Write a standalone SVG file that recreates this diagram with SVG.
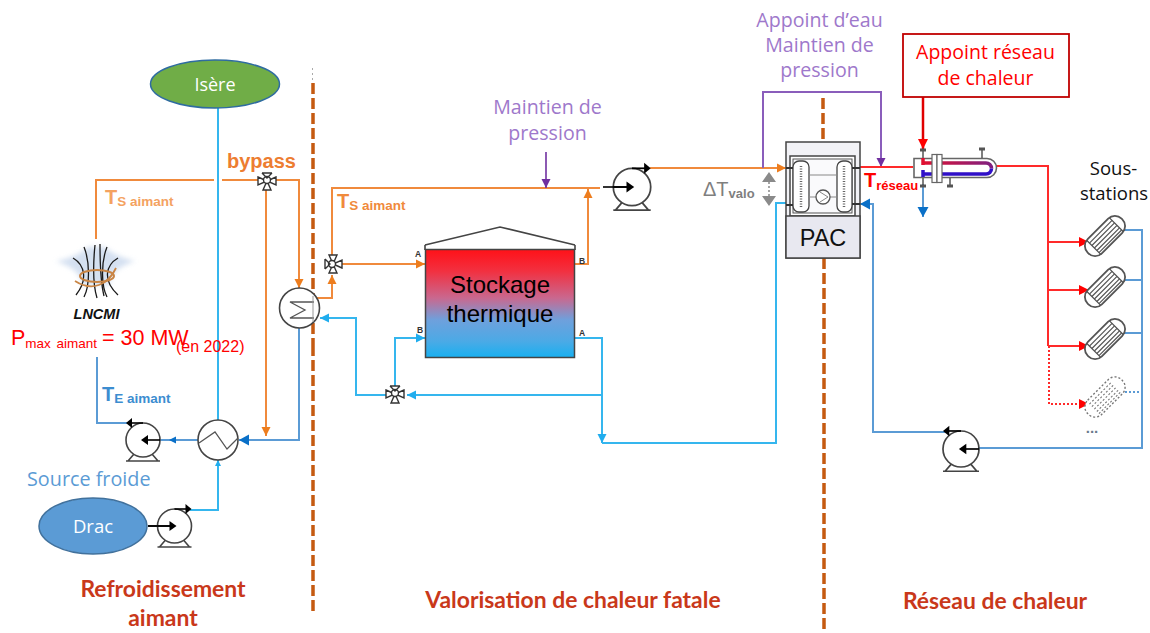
<svg xmlns="http://www.w3.org/2000/svg" width="1150" height="633" viewBox="0 0 1150 633">
<style>
.o{fill:none;stroke:#F08A3C;stroke-width:2}
.l{fill:none;stroke:#35B6EE;stroke-width:2}
.b{fill:none;stroke:#5B9BD5;stroke-width:2}
.r{fill:none;stroke:#FF2A2A;stroke-width:2}
.p{fill:none;stroke:#8A5DBB;stroke-width:2}
.d{fill:none;stroke:#C55A11;stroke-width:3.5;stroke-dasharray:11 4}
.eq{fill:#fff;stroke:#444;stroke-width:1.6}
.thin{fill:none;stroke:#555;stroke-width:1.3}
text{font-family:"Open Sans","Noto Sans",sans-serif}
.sm{font-family:"Liberation Sans",Arial,sans-serif}
.tt{font-family:Lato,"Open Sans",sans-serif;font-weight:700;font-size:22.9px;fill:#C9381A;text-anchor:middle}
.v{font-size:19.6px;fill:#9E78CB;text-anchor:middle}
.m{text-anchor:middle}
</style>
<defs>
<marker id="ao" markerUnits="userSpaceOnUse" markerWidth="10" markerHeight="10" refX="9" refY="5" orient="auto"><path d="M0 0.500L9 5L0 9.500z" fill="#ED7D1E"/></marker>
<marker id="al" markerUnits="userSpaceOnUse" markerWidth="10" markerHeight="10" refX="9" refY="5" orient="auto"><path d="M0 0.500L9 5L0 9.500z" fill="#20ADEE"/></marker>
<marker id="als" markerUnits="userSpaceOnUse" markerWidth="7" markerHeight="8" refX="6" refY="4" orient="auto"><path d="M0 1L6 4L0 7z" fill="#20ADEE"/></marker>
<marker id="ab" markerUnits="userSpaceOnUse" markerWidth="11" markerHeight="12" refX="10" refY="6" orient="auto"><path d="M0 0.500L10 6L0 11.500z" fill="#0A70C8"/></marker>
<marker id="abs" markerUnits="userSpaceOnUse" markerWidth="8" markerHeight="8" refX="7" refY="4" orient="auto"><path d="M0 0.500L7 4L0 7.500z" fill="#0A70C8"/></marker>
<marker id="ar" markerUnits="userSpaceOnUse" markerWidth="11" markerHeight="12" refX="10" refY="5.500" orient="auto"><path d="M0 0.500L10 5.500L0 10.500z" fill="#FF0000"/></marker>
<marker id="ap" markerUnits="userSpaceOnUse" markerWidth="14" markerHeight="12" refX="9" refY="4.500" orient="auto"><path d="M0 0L9 4.500L0 9z" fill="#7030A0"/></marker>
<linearGradient id="tank" x1="0" y1="0" x2="0" y2="1">
<stop offset="0" stop-color="#FF1118"/><stop offset="0.2" stop-color="#F23040"/><stop offset="0.45" stop-color="#C9688F"/><stop offset="0.65" stop-color="#6FA0DC"/><stop offset="0.85" stop-color="#4BAAE6"/><stop offset="1" stop-color="#18B0F0"/>
</linearGradient>
<linearGradient id="hx" x1="0" y1="0" x2="1" y2="0"><stop offset="0" stop-color="#E01030"/><stop offset="1" stop-color="#802080"/></linearGradient>
<filter id="halo" x="-20%" y="-20%" width="140%" height="140%"><feGaussianBlur stdDeviation="2.500"/></filter>
<g id="pump">
<path d="M-15 21L-9 14M15 21L9 14M-17 21H17" fill="none" stroke="#444" stroke-width="1.600"/>
<circle r="17" fill="#fff" stroke="#444" stroke-width="1.600"/>
<path d="M-17 0H-2" stroke="#000" stroke-width="1.600"/><path d="M-5 -5L2 0L-5 5z" fill="#000"/>
<path d="M0 -17H13" stroke="#000" stroke-width="1.600"/><path d="M11 -22L17 -17L11 -12z" fill="#000"/>
</g>
<g id="valve">
<path d="M-9 -4L0 0L-9 4zM9 -4L0 0L9 4zM-4 9L0 0L4 9z" fill="#fff" stroke="#333" stroke-width="1.400"/>
<circle cy="-1" r="3.500" fill="#fff" stroke="#333" stroke-width="1.400"/>
<path d="M-5 -8H5M-5 -8L0 -3L5 -8" fill="none" stroke="#333" stroke-width="1.400"/>
</g>
<g id="sub">
<rect x="-24" y="-10" width="48" height="20" rx="9.500" fill="#fff" stroke="#555" stroke-width="1.800"/>
<path d="M-16 -10V10M16 -10V10" stroke="#555" stroke-width="1.300"/>
<path d="M-16 -6H16M-16 -2.500H16M-16 1H16M-16 4.500H16M-16 7.500H16" stroke="#555" stroke-width="1.200"/>
</g>
<g id="subd">
<rect x="-24" y="-10" width="48" height="20" rx="9.500" fill="#fff" stroke="#777" stroke-width="1.400" stroke-dasharray="2 2"/>
<path d="M-16 -6H16M-16 -2.500H16M-16 1H16M-16 4.500H16M-16 7.500H16" stroke="#777" stroke-width="1.100" stroke-dasharray="2 2"/>
</g>
</defs>
<rect width="1150" height="633" fill="#fff"/>

<g id="separateurs">
<path d="M312.500 68V82" stroke="#AAA" stroke-width="1" stroke-dasharray="2 3" fill="none"/>
<path class="d" d="M313 83V345"/><path class="d" d="M313 345V615"/>
<path class="d" d="M823 98V142"/><path class="d" d="M824 258V633"/>
</g>

<g id="connecteurs">
<path class="l" d="M218 108V420"/>
<path class="l" d="M190 510H218V460" marker-end="url(#als)"/>
<path class="o" d="M96 239V180H214M222 180H258"/>
<path class="o" d="M276 180H299V288" marker-end="url(#ao)"/>
<path class="o" d="M266 190V436" marker-end="url(#ao)"/>
<path class="o" d="M317 298H332V275" marker-end="url(#ao)"/>
<path class="o" d="M332 255V188H600"/>
<path class="o" d="M341 264H425" marker-end="url(#ao)"/>
<path class="o" d="M575 264H588V189" marker-end="url(#ao)"/>
<path class="o" d="M650 168H786" marker-end="url(#ao)"/>
<path class="b" d="M299 328V440H239" marker-end="url(#ab)"/>
<path class="b" d="M198 440H160"/><path class="b" d="M176 440H169" marker-end="url(#abs)"/>
<path class="b" d="M129 423H97V357"/>
<path class="l" d="M386 395H356V318H320" marker-end="url(#al)"/>
<path class="l" d="M602 395H407" marker-end="url(#al)"/>
<path class="l" d="M395 386V338H425" marker-end="url(#al)"/>
<path class="l" d="M575 338H602V443" marker-end="url(#al)"/>
<path class="l" d="M602 443H776V203H787"/>
<path d="M546 152V188" style="fill:none;stroke:#7030A0;stroke-width:1.600" marker-end="url(#ap)"/>
<path class="p" d="M763 168V92H881V167" marker-end="url(#ap)"/>
<path class="r" d="M860 167H913M996 166H1048V346"/>
<path style="fill:none;stroke:#E00000;stroke-width:2.500" d="M923 97V149" marker-end="url(#ar)"/>
<path class="b" d="M923 184V217" marker-end="url(#ab)"/>
<path class="r" d="M1048 242H1089" marker-end="url(#ar)"/>
<path class="r" d="M1048 290H1089" marker-end="url(#ar)"/>
<path class="r" d="M1048 346H1089" marker-end="url(#ar)"/>
<path class="r" d="M1049 346V404H1089" stroke-dasharray="2 2" marker-end="url(#ar)"/>
<path class="b" d="M1121 230H1142V448H978"/>
<path class="b" d="M1121 280H1142M1121 333H1142"/>
<path class="b" d="M1121 392H1142" stroke-dasharray="2 2"/>
<path class="b" d="M945 432H873V204H860" marker-end="url(#ab)"/>
<path fill="none" stroke="#888" stroke-width="1.500" stroke-dasharray="2 2" d="M769 178V197"/>
<path d="M769 172L776 182H762zM769 206L776 196H762z" fill="#8A8A8A"/>
</g>

<g id="isere"><ellipse cx="215" cy="84" rx="64.500" ry="24" fill="#70AD47" stroke="#2F6CA0" stroke-width="1.500"/><text x="215" y="90.500" class="m" font-size="18" fill="#fff">Isère</text></g>
<g id="drac"><ellipse cx="93" cy="526" rx="54" ry="28" fill="#5B9BD5" stroke="#41719C" stroke-width="1.500"/><text x="93" y="533" class="m" font-size="18.500" fill="#fff">Drac</text></g>
<g id="pompe-drac"><path d="M148 526H160" stroke="#000" stroke-width="1.600"/><use href="#pump" x="174.500" y="526"/><path d="M148 526H170" stroke="#000" stroke-width="1.600"/></g>
<g id="pompe-aimant"><use href="#pump" transform="translate(143,440) scale(-1,1)"/></g>
<g id="pompe-valo"><use href="#pump" transform="translate(632,187) scale(1.100)"/><path d="M603 187H628" stroke="#000" stroke-width="1.600"/></g>
<g id="pompe-reseau"><use href="#pump" transform="translate(961,449) scale(-1.060,1.060)"/></g>

<g id="echangeur-1"><circle cx="299.500" cy="308" r="20" class="eq"/><path class="thin" d="M314 302H290L305 310L290 318H314"/><path d="M313 296V322" stroke="#999" stroke-width="1"/></g>
<g id="echangeur-2"><circle cx="218" cy="440" r="20" class="eq"/><path class="thin" d="M199 443L215 432L227 449L238 438"/></g>
<g id="vanne-bypass"><use href="#valve" x="267" y="181"/></g>
<g id="vanne-stock-haut"><use href="#valve" transform="translate(333,264) rotate(-90)"/></g>
<g id="vanne-stock-bas"><use href="#valve" x="395" y="394"/></g>

<g id="aimant">
<path d="M56 261C75 258 85 250 88 247H105C110 252 120 258 135 261C115 268 110 275 110 285H82C82 275 75 268 56 261z" fill="#C6D6EC" opacity=".75" filter="url(#halo)"/>
<g fill="none" stroke="#1a1a1a" stroke-width="1.300">
<path d="M95 245C93 265 93 285 97 298M84 247C90 262 90 285 84 297M107 247C101 262 101 285 107 297M73 258C85 265 88 280 76 295M118 258C106 265 102 280 118 295M100 244C100 262 100 280 104 296"/>
</g>
<ellipse cx="97" cy="276" rx="17" ry="6" fill="none" stroke="#C98545" stroke-width="2"/>
<path d="M75 281C92 292 108 285 116 268" fill="none" stroke="#C98545" stroke-width="1.800"/>
<text x="96.500" y="319" class="sm m" font-size="14.500" font-weight="700" font-style="italic" fill="#111">LNCMI</text>
</g>

<g id="stockage">
<path d="M425 245L500 227L575 245" fill="none" stroke="#444" stroke-width="1.600"/>
<path d="M425 245V250M575 245V250" stroke="#444" stroke-width="1.600"/>
<rect x="425.500" y="249.500" width="149" height="108" fill="url(#tank)" stroke="#444" stroke-width="1.500"/>
<text x="500" y="293" class="sm m" font-size="24" fill="#000">Stockage</text>
<text x="500" y="322" class="sm m" font-size="24" fill="#000">thermique</text>
<g font-weight="700" fill="#333"><text x="415" y="257" class="sm" font-size="8.500">A</text><text x="579" y="264" class="sm" font-size="8.500">B</text><text x="417" y="333" class="sm" font-size="8.500">B</text><text x="579" y="336" class="sm" font-size="8.500">A</text></g>
</g>

<g id="pac">
<rect x="786" y="142" width="74" height="116" fill="#F2F2F6" stroke="#444" stroke-width="1.500"/>
<rect x="790" y="156" width="65" height="60" fill="#fff" stroke="#444" stroke-width="1.500"/>
<rect x="793" y="159" width="59" height="54" fill="#FAFAFC" stroke="#555"/>
<rect x="786" y="216" width="74" height="42" fill="#E8E8F0" stroke="#444" stroke-width="1.500"/>
<rect x="793" y="161" width="16" height="51" rx="6" fill="#fff" stroke="#444" stroke-width="1.300"/>
<rect x="837" y="161" width="15" height="51" rx="6" fill="#fff" stroke="#444" stroke-width="1.300"/>
<path d="M801 166V207M844 166V207" stroke="#666" stroke-width="2.500" stroke-dasharray="1 1.500"/>
<path d="M809 175H837M809 197H816M830 197H837" stroke="#888" stroke-width="1.200"/>
<circle cx="823" cy="197" r="7" fill="#fff" stroke="#555" stroke-width="1.300"/>
<path d="M820 192L828 197L820 202" fill="none" stroke="#888"/>
<path d="M786 168H793M786 205H793M852 168H860M852 204H860" stroke="#333" stroke-width="2"/>
<text x="823" y="246" class="sm m" font-size="23.500" fill="#111">PAC</text>
</g>

<g id="echangeur-appoint">
<path d="M935 158.500H987A9.500 9.500 0 0 1 987 177.500H914V158.500z" fill="#fff" stroke="#666" stroke-width="1.600"/>
<path d="M923 163H986A5.500 5.500 0 0 1 991.500 168.500" fill="none" stroke="url(#hx)" stroke-width="3.500"/>
<path d="M923 174H986A5.500 5.500 0 0 0 991.500 168.500" fill="none" stroke="#3010C8" stroke-width="3.500"/>
<rect x="932" y="154.500" width="5" height="28" fill="#fff" stroke="#666" stroke-width="1.200"/>
<rect x="937" y="154.500" width="5" height="28" fill="#fff" stroke="#666" stroke-width="1.200"/>
<path d="M923 158V165" stroke="#E01030" stroke-width="3.500"/>
<path d="M923 170V177" stroke="#3010C8" stroke-width="3.500"/>
<path d="M923 150V158M923 178V186M982 149V158M950 178V186" stroke="#555" stroke-width="1.500"/>
<path d="M920 150H926M920 186H926M979 149H985M947 186H953" stroke="#555" stroke-width="3"/>
</g>
<g id="sous-station-1"><use href="#sub" transform="translate(1105,236) rotate(-45)"/></g>
<g id="sous-station-2"><use href="#sub" transform="translate(1105,287) rotate(-45)"/></g>
<g id="sous-station-3"><use href="#sub" transform="translate(1105,339) rotate(-45)"/></g>
<g id="sous-station-4"><use href="#subd" transform="translate(1105,397) rotate(-45)"/></g>

<g id="appoint-reseau"><rect x="903" y="34" width="166" height="63" fill="#fff" stroke="#C00000" stroke-width="1.800"/><text x="985.500" y="59" class="m" font-size="19.500" fill="#FF0000">Appoint réseau</text><text x="985.500" y="85" class="m" font-size="19.500" fill="#FF0000">de chaleur</text></g>

<g id="labels">
<text x="227" y="168" class="sm" font-size="20" font-weight="700" fill="#ED7D31">bypass</text>
<text x="105" y="204" class="sm" font-weight="700" font-size="20" fill="#F4A261">T<tspan font-size="13.500" dy="2">S aimant</tspan></text>
<text x="337" y="208" class="sm" font-weight="700" font-size="20" fill="#F08A3C">T<tspan font-size="13.500" dy="2">S aimant</tspan></text>
<text x="102" y="401" class="sm" font-weight="700" font-size="20" fill="#3C8DD0">T<tspan font-size="13.500" dy="2">E aimant</tspan></text>
<text x="11" y="345" class="sm" font-size="21.500" fill="#FF0000">P<tspan font-size="13.500" dy="3" word-spacing="2">max aimant</tspan><tspan x="102" dy="-3">= 30 MW</tspan></text>
<text x="176" y="352" class="sm" font-size="16" fill="#FF0000">(en 2022)</text>
<text x="27" y="486" font-size="19.800" fill="#5B9BD5">Source froide</text>
<text x="547.500" y="114" class="v">Maintien de</text>
<text x="547.500" y="140" class="v">pression</text>
<text x="819.500" y="27" class="v">Appoint d’eau</text>
<text x="819.500" y="52" class="v">Maintien de</text>
<text x="819.500" y="77" class="v">pression</text>
<text x="703" y="196" class="sm" font-size="20" fill="#7F7F7F">ΔT<tspan font-size="13" font-weight="700" dy="2">valo</tspan></text>
<text x="864" y="187" class="sm" font-size="20" font-weight="700" fill="#FF0000">T<tspan font-size="13" dy="3">réseau</tspan></text>
<text x="1113.500" y="175" class="m" font-size="18.500" fill="#111">Sous-</text>
<text x="1114" y="200" class="m" font-size="18.500" fill="#111">stations</text>
<text x="1092" y="433" class="m sm" font-size="15" font-weight="700" fill="#6B7B8C">...</text>
<text x="163" y="597" class="tt">Refroidissement</text>
<text x="163" y="626" class="tt">aimant</text>
<text x="573" y="608" class="tt">Valorisation de chaleur fatale</text>
<text x="995" y="609" class="tt">Réseau de chaleur</text>
</g>
</svg>
